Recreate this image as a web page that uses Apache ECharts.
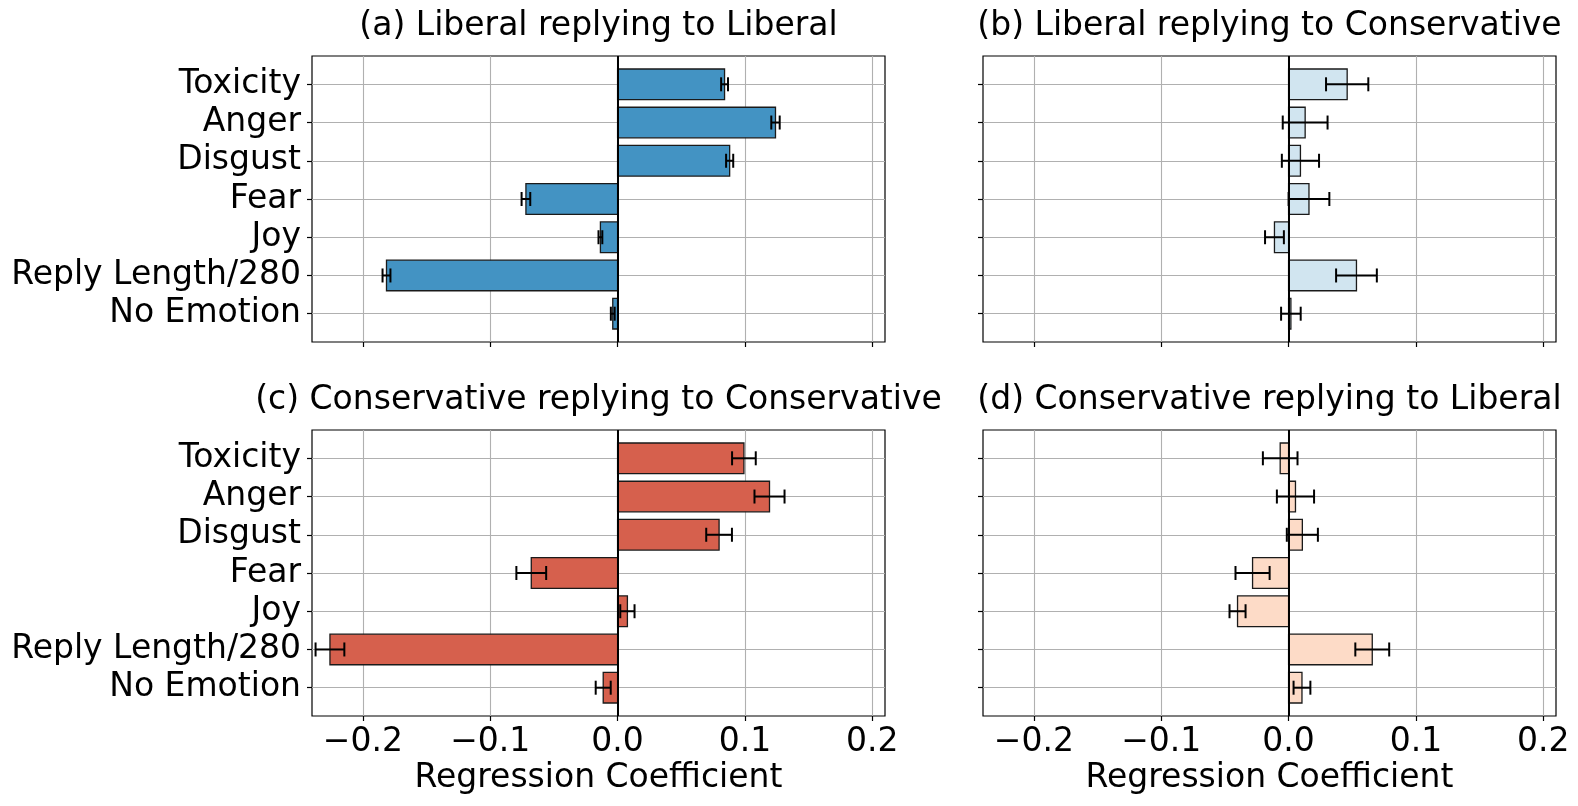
<!DOCTYPE html>
<html>
<head>
<meta charset="utf-8">
<script src="https://cdn.jsdelivr.net/npm/echarts@6/dist/echarts.min.js"></script>
<style>
html,body{margin:0;padding:0;background:#fff;}
#chart{width:1578px;height:806px;}
</style>
</head>
<body>
<div id="chart"></div>
<script>
// ---- data ----
const categories = ['Toxicity', 'Anger', 'Disgust', 'Fear', 'Joy', 'Reply Length/280', 'No Emotion'];
const xTicks = [-0.2, -0.1, 0.0, 0.1, 0.2];
const panelTitles = [
  '(a) Liberal replying to Liberal',
  '(b) Liberal replying to Conservative',
  '(c) Conservative replying to Conservative',
  '(d) Conservative replying to Liberal'
];
const xAxisTitle = 'Regression Coefficient';

const libLib    = [0.084, 0.124, 0.088, -0.072, -0.0135, -0.1815, -0.0038];
const libLibErr = [0.0027, 0.0033, 0.0028, 0.0034, 0.0015, 0.0031, 0.0015];

const libCon    = [0.046, 0.013, 0.0093, 0.016, -0.0111, 0.0533, 0.0018];
const libConErr = [0.0166, 0.0176, 0.0146, 0.016, 0.0074, 0.016, 0.0077];

const conCon    = [0.0992, 0.1193, 0.0797, -0.0678, 0.0077, -0.2259, -0.0113];
const conConErr = [0.0093, 0.0118, 0.0101, 0.0117, 0.0056, 0.0113, 0.0059];

const conLib    = [-0.0066, 0.0054, 0.0108, -0.0283, -0.0401, 0.0657, 0.0105];
const conLibErr = [0.0136, 0.0146, 0.0122, 0.0134, 0.0063, 0.0133, 0.0066];

// ---- styling / layout ----
const FONT = 'DejaVu Sans';
const FS = 33;
const colors = ['#4393c3', '#d1e5f0', '#d6604d', '#fddbc7'];
const panels = [
  {vals: libLib, errs: libLibErr},
  {vals: libCon, errs: libConErr},
  {vals: conCon, errs: conConErr},
  {vals: conLib, errs: conLibErr}
];
const grids = [
  {left: 312, top: 56, width: 573, height: 286},
  {left: 983, top: 56, width: 573, height: 286},
  {left: 312, top: 430, width: 573, height: 286},
  {left: 983, top: 430, width: 573, height: 286}
];
const BAR_H = 0.4;
const CAP = 7;
const catIdx = categories.map((c, i) => i);

function fmtX(v) {
  const s = Math.abs(v).toFixed(1);
  return (v < -1e-9 ? '\u2212' : '') + s;
}

function makeRender(color) {
  return function (params, api) {
    const v = api.value(0), idx = api.value(1), err = api.value(2);
    const p0 = api.coord([0, idx - BAR_H]);
    const p1 = api.coord([v, idx + BAR_H]);
    const x = Math.min(p0[0], p1[0]), y = Math.min(p0[1], p1[1]);
    const w = Math.abs(p1[0] - p0[0]), h = Math.abs(p1[1] - p0[1]);
    const e0 = api.coord([v - err, idx]);
    const e1 = api.coord([v + err, idx]);
    const ls = {stroke: '#000', lineWidth: 2};
    return {
      type: 'group',
      children: [
        {type: 'rect', shape: {x: x, y: y, width: w, height: h}, style: {fill: color, stroke: '#1a1a1a', lineWidth: 1.3}},
        {type: 'line', shape: {x1: e0[0], y1: e0[1], x2: e1[0], y2: e1[1]}, style: ls},
        {type: 'line', shape: {x1: e0[0], y1: e0[1] - CAP, x2: e0[0], y2: e0[1] + CAP}, style: ls},
        {type: 'line', shape: {x1: e1[0], y1: e1[1] - CAP, x2: e1[0], y2: e1[1] + CAP}, style: ls}
      ]
    };
  };
}

const option = {
  backgroundColor: '#fff',
  animation: false,
  title: panelTitles.map((t, i) => ({
    text: t,
    left: grids[i].left + grids[i].width / 2,
    top: grids[i].top - 48,
    textAlign: 'center',
    padding: 0,
    textStyle: {fontFamily: FONT, fontSize: FS, fontWeight: 'normal', color: '#000', lineHeight: 36}
  })),
  grid: grids.map(g => Object.assign({show: true, borderColor: '#000', borderWidth: 1.2, backgroundColor: 'transparent'}, g)),
  xAxis: grids.map((g, i) => ({
    type: 'value',
    gridIndex: i,
    position: 'bottom',
    min: -0.24,
    max: 0.21,
    axisLine: {show: false, onZero: false},
    axisTick: {show: true, customValues: xTicks, length: 5, lineStyle: {color: '#000', width: 1.2}},
    axisLabel: {
      show: i >= 2,
      customValues: xTicks,
      formatter: fmtX,
      fontFamily: FONT, fontSize: FS, color: '#000', margin: 10
    },
    splitLine: {show: true, lineStyle: {color: '#b0b0b0', width: 1.1}},
    name: i >= 2 ? xAxisTitle : '',
    nameLocation: 'middle',
    nameGap: 46,
    nameTextStyle: {fontFamily: FONT, fontSize: FS, color: '#000'}
  })),
  yAxis: grids.map((g, i) => ({
    type: 'value',
    gridIndex: i,
    position: 'left',
    inverse: true,
    min: -0.74,
    max: 6.74,
    axisLine: {show: false, onZero: false},
    axisTick: {show: true, customValues: catIdx, length: 5, lineStyle: {color: '#000', width: 1.2}},
    axisLabel: {
      show: i % 2 === 0,
      customValues: catIdx,
      formatter: v => categories[Math.round(v)],
      fontFamily: FONT, fontSize: FS, color: '#000', margin: 11
    },
    splitLine: {show: true, lineStyle: {color: '#b0b0b0', width: 1.1}}
  })),
  series: panels.map((p, i) => ({
    type: 'custom',
    xAxisIndex: i,
    yAxisIndex: i,
    z: 3,
    renderItem: makeRender(colors[i]),
    encode: {x: 0, y: 1},
    data: p.vals.map((v, k) => [v, k, p.errs[k]]),
    markLine: {
      silent: true,
      symbol: 'none',
      label: {show: false},
      lineStyle: {color: '#000', width: 2, type: 'solid'},
      data: [{xAxis: 0}]
    }
  }))
};

const chart = echarts.init(document.getElementById('chart'));
chart.setOption(option);
</script>
</body>
</html>
